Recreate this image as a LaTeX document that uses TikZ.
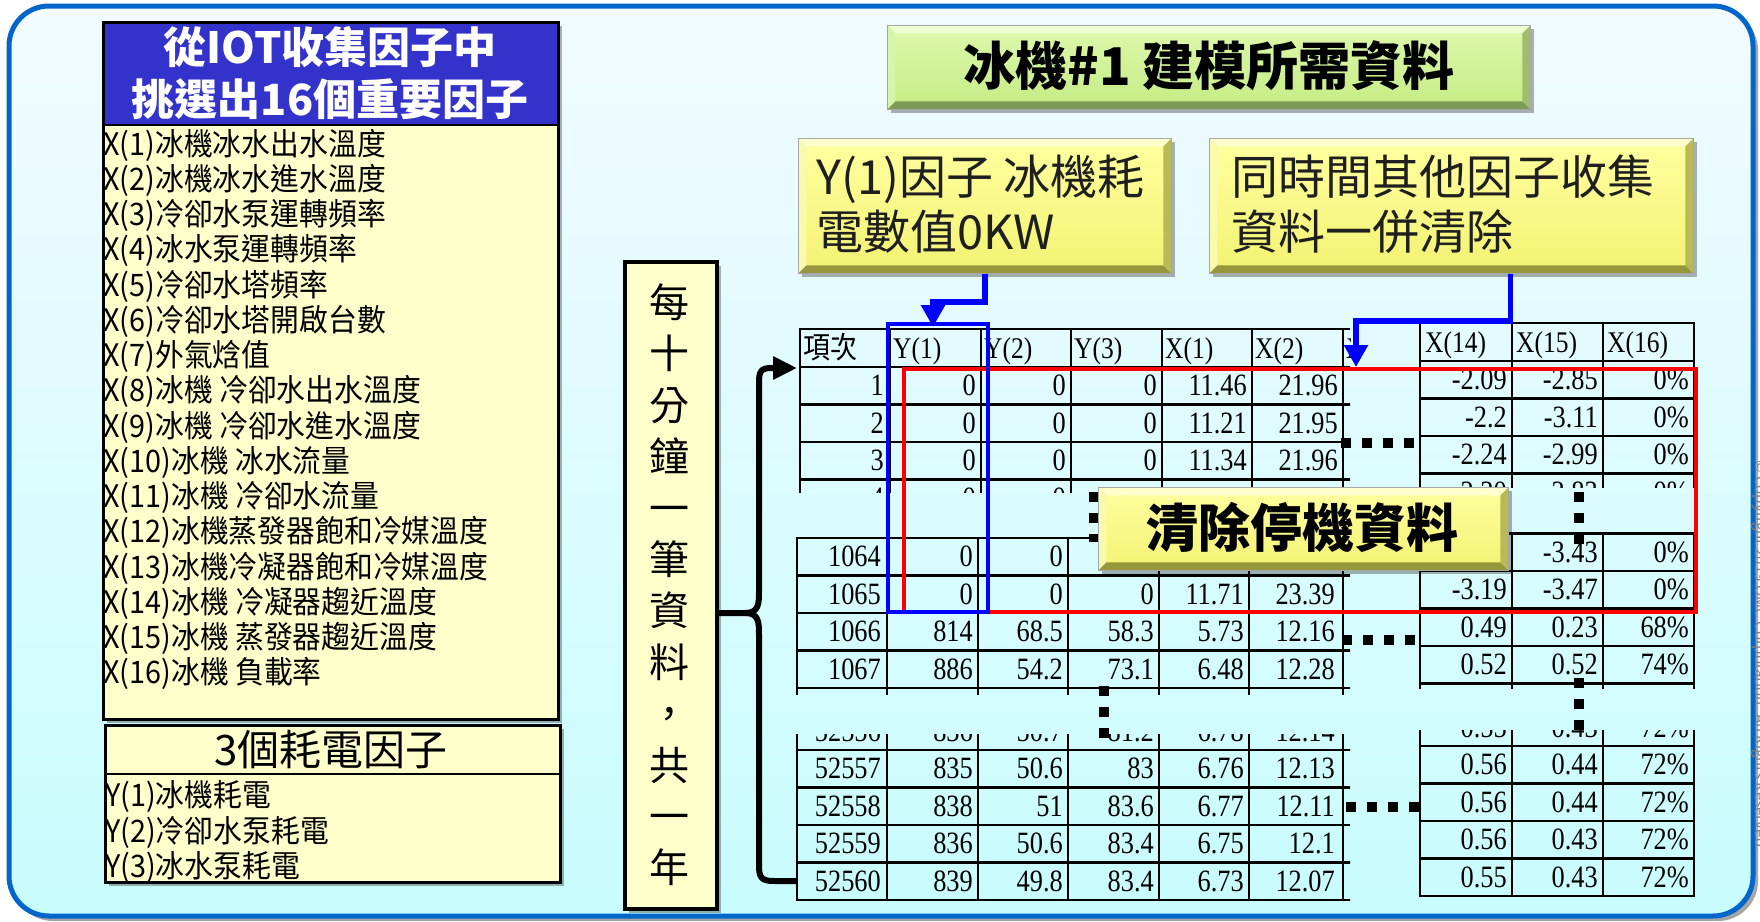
\documentclass[tikz,border=0pt]{standalone}
\usepackage{fontspec}
\setmainfont{Noto Sans CJK TC}
\newfontfamily\tnr[FakeStretch=0.85]{Liberation Serif}
\newfontfamily\cjkt[FakeStretch=0.9]{Noto Sans CJK TC}
\newfontfamily\cjkn[FakeStretch=0.93]{Noto Sans CJK TC}
\usetikzlibrary{arrows.meta,shadows}

\definecolor{frameblue}{RGB}{0,102,204}
\definecolor{bgtop}{RGB}{242,251,255}
\definecolor{bgbot}{RGB}{200,252,253}
\definecolor{hdrblue}{RGB}{51,51,204}
\definecolor{paleyel}{RGB}{255,255,204}
\definecolor{yelface}{RGB}{255,255,160}
\definecolor{yelfaceb}{RGB}{242,242,115}
\definecolor{yellight}{RGB}{255,255,205}
\definecolor{yelleft}{RGB}{250,250,175}
\definecolor{yeldark}{RGB}{150,150,60}
\definecolor{yelright}{RGB}{185,185,85}
\definecolor{grface}{RGB}{222,248,172}
\definecolor{grfaceb}{RGB}{196,236,132}
\definecolor{grlight}{RGB}{238,255,212}
\definecolor{grleft}{RGB}{215,245,170}
\definecolor{grdark}{RGB}{125,155,85}
\definecolor{grright}{RGB}{160,190,110}

\newcommand\Lrow[8]{%
  \node[tv] (#2c0) at ({884+\ldx},{#1+28.75}) {#3};
  \node[tv] (#2c1) at ({976+\ldx},{#1+28.75}) {#4};
  \node[tv] (#2c2) at ({1066+\ldx},{#1+28.75}) {#5};
  \node[tv] (#2c3) at ({1157+\ldx},{#1+28.75}) {#6};
  \node[tv] (#2c4) at ({1247+\ldx},{#1+28.75}) {#7};
  \node[tv] (#2c5) at ({1338+\ldx},{#1+28.75}) {#8};
  \draw[tl] ({800+\ldx},{#1+37.5}) -- (1352,{#1+37.5});
}
\newcommand\Rrow[5]{%
  \node[tv] (#2c0) at (1507,{#1+28.75}) {#3};
  \node[tv] (#2c1) at (1598,{#1+28.75}) {#4};
  \node[tv] (#2c2) at (1689,{#1+28.75}) {#5};
  \draw[tl] (1420,{#1+37.5}) -- (1694,{#1+37.5});
}

\tikzset{
  tl/.style={line width=2.8pt, line cap=rect},
  tv/.style={anchor=base east, inner sep=0pt, font=\tnr\fontsize{31pt}{31pt}\selectfont},
  th/.style={anchor=base west, inner sep=0pt, font=\tnr\fontsize{30pt}{30pt}\selectfont},
  listtxt/.style={anchor=base west, inner sep=0pt, font=\cjkn\fontsize{31pt}{31pt}\selectfont},
  hdrtxt/.style={anchor=base, inner sep=0pt, text=white, font=\bfseries\fontsize{43pt}{43pt}\selectfont},
  boxtxt/.style={anchor=base west, inner sep=0pt, text=black!88, font=\fontsize{47pt}{47pt}\selectfont},
  bigtxt/.style={anchor=base, inner sep=0pt, font=\bfseries\fontsize{52pt}{52pt}\selectfont},
  vtxt/.style={anchor=base, inner sep=0pt, font=\fontsize{40pt}{40pt}\selectfont},
  shad/.style={drop shadow={shadow xshift=4pt, shadow yshift=-4pt, fill=black, opacity=0.3}},
  panel/.style={draw=black, fill=paleyel, inner sep=0pt, anchor=north west, shad},
  bevelface/.style n args={4}{path picture={
    \fill[#1] (path picture bounding box.north west) -- (path picture bounding box.north east) -- ([shift={(-8pt,-8pt)}]path picture bounding box.north east) -- ([shift={(8pt,-8pt)}]path picture bounding box.north west) -- cycle;
    \fill[#2] (path picture bounding box.north west) -- ([shift={(8pt,-8pt)}]path picture bounding box.north west) -- ([shift={(8pt,8pt)}]path picture bounding box.south west) -- (path picture bounding box.south west) -- cycle;
    \fill[#3] (path picture bounding box.south west) -- ([shift={(8pt,8pt)}]path picture bounding box.south west) -- ([shift={(-8pt,8pt)}]path picture bounding box.south east) -- (path picture bounding box.south east) -- cycle;
    \fill[#4] (path picture bounding box.south east) -- ([shift={(-8pt,8pt)}]path picture bounding box.south east) -- ([shift={(-8pt,-8pt)}]path picture bounding box.north east) -- (path picture bounding box.north east) -- cycle;
  }},
  ybox/.style={inner sep=0pt, anchor=north west, draw=gray!70, line width=0.8pt, top color=yelface, bottom color=yelfaceb, bevelface={yellight}{yelleft}{yeldark}{yelright}, shad},
  gbox/.style={inner sep=0pt, anchor=north west, draw=gray!70, line width=0.8pt, top color=grface, bottom color=grfaceb, bevelface={grlight}{grleft}{grdark}{grright}, shad},
  barrow/.style={draw=blue, line width=5.5pt, -{Triangle[length=22pt,width=23pt]}},
  brace/.style={draw=black, line width=6pt, line join=round},
  dotline/.style={draw=black, line width=10pt, dash pattern=on 10pt off 11pt},
}

\begin{document}
\begin{tikzpicture}[x=1pt,y=-1pt]
\useasboundingbox (0,0) rectangle (1760,921);
\fill[white] (0,0) rectangle (1760,921);

% outer frame
\fill[black!35, rounded corners=40pt] (13,10) rectangle (1758,921);
\draw[line width=5pt, draw=frameblue, rounded corners=40pt, top color=bgtop, bottom color=bgbot] (9,6) rectangle (1753,916);

% left factor list
\node[panel, line width=2.5pt, minimum width=455pt, minimum height=697pt,
  path picture={\fill[hdrblue] (path picture bounding box.north west) rectangle ([yshift=-104pt]path picture bounding box.north east);}] (xbox) at (102,21) {};
\draw[line width=2.5pt] (102,125) -- (557,125);
\node[hdrtxt] (h1) at (330,63.5) {從IOT收集因子中};
\node[hdrtxt] (h2) at (330,115.5) {挑選出16個重要因子};
\foreach \t [count=\i] in {X(1)冰機冰水出水溫度,X(2)冰機冰水進水溫度,X(3)冷卻水泵運轉頻率,X(4)冰水泵運轉頻率,X(5)冷卻水塔頻率,X(6)冷卻水塔開啟台數,X(7)外氣焓值,X(8)冰機 冷卻水出水溫度,X(9)冰機 冷卻水進水溫度,X(10)冰機 冰水流量,X(11)冰機 冷卻水流量,X(12)冰機蒸發器飽和冷媒溫度,X(13)冰機冷凝器飽和冷媒溫度,X(14)冰機 冷凝器趨近溫度,X(15)冰機 蒸發器趨近溫度,X(16)冰機 負載率}
  \node[listtxt] (x\i) at (103,{155.2+35.25*(\i-1)}) {\t};

% power factors
\node[panel, line width=2.5pt, minimum width=455pt, minimum height=157pt] (pbox) at (104,724) {};
\draw[line width=2.5pt] (104,774) -- (559,774);
\node[anchor=base, inner sep=0pt, font=\fontsize{42pt}{42pt}\selectfont] (ptitle) at (331,765) {3個耗電因子};
\node[listtxt] (y1) at (105,806.5) {Y(1)冰機耗電};
\node[listtxt] (y2) at (105,842) {Y(2)冷卻水泵耗電};
\node[listtxt] (y3) at (105,877.5) {Y(3)冰水泵耗電};

% vertical box
\node[panel, line width=3.5pt, minimum width=92pt, minimum height=647pt] (vbox) at (623,260) {};
\foreach \c [count=\i] in {每,十,分,鐘,一,筆,資,料,，,共,一,年}
  \node[vtxt] (v\i) at (669,{303+51.4*(\i-1)+14.4}) {\c};

% title and note boxes
\node[gbox, minimum width=643pt, minimum height=84pt] (title) at (887,25) {};
\node[bigtxt] (titletxt) at (1209,85.5) {冰機\#1 建模所需資料};
\node[ybox, minimum width=373pt, minimum height=135pt] (yb) at (798,138) {};
\node[boxtxt] (yt1) at (816,194.5) {Y(1)因子 冰機耗};
\node[boxtxt] (yt2) at (816,249.5) {電數值0KW};
\node[ybox, minimum width=484pt, minimum height=135pt] (ob) at (1209,138) {};
\node[boxtxt] (ot1) at (1231,194.5) {同時間其他因子收集};
\node[boxtxt] (ot2) at (1231,249.5) {資料一併清除};

% ---- left table, block 1
\begin{scope}
\clip (790,326) rectangle (1350,492);
\def\ldx{0}
\draw[tl] (800,329) -- (1352,329);
\draw[tl] (800,367) -- (1352,367);
\node[anchor=base west, inner sep=0pt, font=\cjkt\fontsize{30pt}{30pt}\selectfont] (hA) at (803,358) {項次};
\node[th] (hB) at (893,358) {Y(1)};
\node[th] (hC) at (984,358) {Y(2)};
\node[th] (hD) at (1074,358) {Y(3)};
\node[th] (hE) at (1165,358) {X(1)};
\node[th] (hF) at (1255,358) {X(2)};
\node[th] (hG) at (1346,358) {X(3)};
\Lrow{367}{la}{1}{0}{0}{0}{11.46}{21.96}
\Lrow{404.5}{lb}{2}{0}{0}{0}{11.21}{21.95}
\Lrow{442}{lc}{3}{0}{0}{0}{11.34}{21.96}
\Lrow{479.5}{ld}{4}{0}{0}{}{}{}
\foreach \x in {800,890,981,1071,1162,1252,1343} \draw[tl] (\x,329) -- (\x,530);
\end{scope}

% ---- left table, block 2
\begin{scope}
\clip (790,536) rectangle (1350,694);
\def\ldx{-3}
\draw[tl] (797,538) -- (1352,538);
\Lrow{538}{le}{1064}{0}{0}{}{}{}
\Lrow{575.5}{lf}{1065}{0}{0}{0}{11.71}{23.39}
\Lrow{613}{lg}{1066}{814}{68.5}{58.3}{5.73}{12.16}
\Lrow{650.5}{lh}{1067}{886}{54.2}{73.1}{6.48}{12.28}
\foreach \x in {797,887,978,1068,1159,1249,1343} \draw[tl] (\x,538) -- (\x,700);
\end{scope}

% ---- left table, block 3
\begin{scope}
\clip (790,734) rectangle (1350,903);
\def\ldx{-3}
\Lrow{712.5}{li}{52556}{836}{50.7}{81.2}{6.78}{12.14}
\Lrow{750}{lj}{52557}{835}{50.6}{83}{6.76}{12.13}
\Lrow{787.5}{lk}{52558}{838}{51}{83.6}{6.77}{12.11}
\Lrow{825}{ll}{52559}{836}{50.6}{83.4}{6.75}{12.1}
\Lrow{862.5}{lm}{52560}{839}{49.8}{83.4}{6.73}{12.07}
\foreach \x in {797,887,978,1068,1159,1249,1343} \draw[tl] (\x,700) -- (\x,900);
\end{scope}

% ---- right table, block 1
\begin{scope}
\clip (1410,320) rectangle (1700,487);
\draw[tl] (1420,323) -- (1694,323);
\draw[tl] (1420,361) -- (1694,361);
\node[th] (hX) at (1425,352) {X(14)};
\node[th] (hY) at (1516,352) {X(15)};
\node[th] (hZ) at (1607,352) {X(16)};
\Rrow{361}{ra}{-2.09}{-2.85}{0\%}
\Rrow{398.5}{rb}{-2.2}{-3.11}{0\%}
\Rrow{436}{rc}{-2.24}{-2.99}{0\%}
\Rrow{473.5}{rd}{-2.30}{-2.83}{0\%}
\foreach \x in {1420,1512,1603,1694} \draw[tl] (\x,323) -- (\x,520);
\end{scope}

% ---- right table, block 2
\begin{scope}
\clip (1410,532) rectangle (1700,688);
\draw[tl] (1420,533.5) -- (1694,533.5);
\Rrow{533.5}{re}{}{-3.43}{0\%}
\Rrow{571}{rf}{-3.19}{-3.47}{0\%}
\Rrow{608.5}{rg}{0.49}{0.23}{68\%}
\Rrow{646}{rh}{0.52}{0.52}{74\%}
\foreach \x in {1420,1512,1603,1694} \draw[tl] (\x,533) -- (\x,700);
\end{scope}

% ---- right table, block 3
\begin{scope}
\clip (1410,730) rectangle (1700,899);
\Rrow{708.5}{ri}{0.55}{0.43}{72\%}
\Rrow{746}{rj}{0.56}{0.44}{72\%}
\Rrow{783.5}{rk}{0.56}{0.44}{72\%}
\Rrow{821}{rl}{0.56}{0.43}{72\%}
\Rrow{858.5}{rm}{0.55}{0.43}{72\%}
\foreach \x in {1420,1512,1603,1694} \draw[tl] (\x,700) -- (\x,896);
\end{scope}

% highlight rectangles
\node[draw=red, line width=3.5pt, inner sep=0pt, minimum width=792pt, minimum height=243pt, anchor=north west] (rrect) at (902,367) {};
\node[draw=blue, line width=4pt, inner sep=0pt, minimum width=100pt, minimum height=288pt, anchor=north west] (yrect) at (886,322) {};

% dotted continuation marks
\coordinate (d1a) at (1341,443); \coordinate (d1b) at (1418,443);
\coordinate (d2a) at (1342,640); \coordinate (d2b) at (1418,640);
\coordinate (d3a) at (1346,807); \coordinate (d3b) at (1420,807);
\coordinate (d4a) at (1104,686); \coordinate (d4b) at (1104,740);
\coordinate (d5a) at (1579,678); \coordinate (d5b) at (1579,731);
\coordinate (d6a) at (1579,492); \coordinate (d6b) at (1579,546);
\coordinate (d7a) at (1094,492); \coordinate (d7b) at (1094,542);
\draw[dotline] (d1a) -- (d1b);
\draw[dotline] (d2a) -- (d2b);
\draw[dotline] (d3a) -- (d3b);
\draw[dotline] (d4a) -- (d4b);
\draw[dotline] (d5a) -- (d5b);
\draw[dotline] (d6a) -- (d6b);
\draw[dotline] (d7a) -- (d7b);

% clear-stop box
\node[ybox, minimum width=410pt, minimum height=83pt] (cb) at (1098,487) {};
\node[bigtxt] (cbt) at (1302,547) {清除停機資料};

% blue arrows
\coordinate (a1tip) at (933,327);
\coordinate (a2tip) at (1356,367);
\draw[barrow] (yb.south) -- ++(0,28) -| (a1tip);
\draw[barrow] ([xshift=59pt]ob.south) -- ++(0,47) -| (a2tip);

% brace
\coordinate (bt) at (716,613);
\coordinate (tabA) at (797,368);
\coordinate (tabB) at (797,881);
\draw[brace, -{Triangle[length=24pt,width=22pt]}] (bt) -- (745,613) .. controls (759,613) and (759,604) .. (759,590) -- (759,382) .. controls (759,370) and (762,368) .. (772,368) -- (tabA);
\draw[brace] (745,613) .. controls (759,613) and (759,622) .. (759,636) -- (759,866) .. controls (759,878) and (762,881) .. (774,881) -- (tabB);

% copyright
\node[rotate=-90, text=gray, inner sep=0pt, font=\fontsize{15pt}{15pt}\selectfont] (copy) at (1760,656) {© Copyright 2019 OMC Corporation. All Rights Reserved.};
\end{tikzpicture}
\end{document}
